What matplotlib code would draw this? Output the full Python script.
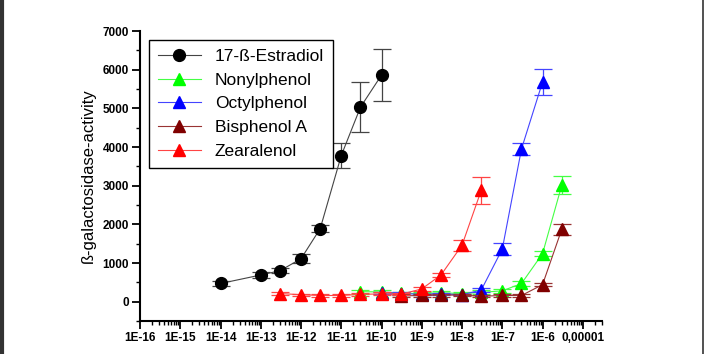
import numpy as np
import matplotlib.pyplot as plt
from matplotlib.ticker import FixedLocator, LogLocator, MultipleLocator, NullFormatter
from matplotlib.lines import Line2D

plt.rcParams['font.family'] = ['Liberation Sans', 'DejaVu Sans']

# data
est_x = [1e-14, 1e-13, 3e-13, 1e-12, 3e-12, 1e-11, 3e-11, 1e-10]
est_y = [470, 690, 800, 1110, 1890, 3780, 5030, 5860]
est_err = [60, 70, 60, 115, 100, 320, 650, 670]

non_x = [3e-11, 1e-10, 3e-10, 1e-9, 3e-9, 1e-8, 3e-8, 1e-7, 3e-7, 1e-6, 3e-6]
non_y = [260, 250, 220, 210, 230, 210, 240, 280, 470, 1240, 3010]
non_err = [50, 40, 40, 40, 40, 40, 50, 50, 60, 60, 230]

oct_x = [1e-10, 3e-10, 1e-9, 3e-9, 1e-8, 3e-8, 1e-7, 3e-7, 1e-6]
oct_y = [230, 210, 190, 200, 180, 300, 1360, 3950, 5680]
oct_err = [30, 30, 20, 30, 20, 60, 160, 150, 330]

bis_x = [3e-10, 1e-9, 3e-9, 1e-8, 3e-8, 1e-7, 3e-7, 1e-6, 3e-6]
bis_y = [150, 160, 170, 170, 140, 160, 160, 440, 1870]
bis_err = [40, 40, 40, 30, 30, 30, 30, 40, 150]

zea_x = [3e-13, 1e-12, 3e-12, 1e-11, 3e-11, 1e-10, 3e-10, 1e-9, 3e-9, 1e-8, 3e-8]
zea_y = [210, 180, 160, 160, 190, 200, 190, 330, 690, 1460, 2880]
zea_err = [40, 30, 40, 30, 40, 40, 30, 60, 60, 140, 350]

xticks = [1e-16, 1e-15, 1e-14, 1e-13, 1e-12, 1e-11, 1e-10, 1e-9, 1e-8, 1e-7, 1e-6, 1e-5]
xlabels = ["1E-16", "1E-15", "1E-14", "1E-13", "1E-12", "1E-11", "1E-10",
           "1E-9", "1E-8", "1E-7", "1E-6", "0,00001"]

series = [
    ("17-ß-Estradiol", est_x, est_y, est_err, "black", "#444444", "o"),
    ("Nonylphenol", non_x, non_y, non_err, "#00ff00", "#44ff44", "^"),
    ("Octylphenol", oct_x, oct_y, oct_err, "#0000ff", "#4444ff", "^"),
    ("Bisphenol A", bis_x, bis_y, bis_err, "#800000", "#993333", "^"),
    ("Zearalenol", zea_x, zea_y, zea_err, "#ff0000", "#ff4444", "^"),
]

fig = plt.figure(figsize=(7.07, 3.54), dpi=100)
ax = fig.add_axes([140/707, 1-321/354, 462/707, 290/354])

for name, x, y, e, c, ec, m in series:
    ax.errorbar(x, y, yerr=e, fmt='none', ecolor=ec, elinewidth=0.9,
                capsize=6.5, capthick=0.9)
    ax.plot(x, y, color=ec, lw=0.8, marker=m, ms=8.5 if m == "o" else 9,
            mfc=c, mec=c, label=name)

ax.set_xscale('log')
ax.set_xlim(1e-16, 3e-5)
ax.set_ylim(-500, 7000)

ax.xaxis.set_major_locator(FixedLocator(xticks))
ax.set_xticklabels(xlabels)
ax.xaxis.set_minor_locator(LogLocator(base=10, subs=np.arange(2, 10), numticks=30))
ax.xaxis.set_minor_formatter(NullFormatter())
ax.yaxis.set_major_locator(FixedLocator([0, 1000, 2000, 3000, 4000, 5000, 6000, 7000]))
ax.yaxis.set_minor_locator(MultipleLocator(500))

for s in ['top', 'right']:
    ax.spines[s].set_visible(False)
for s in ['left', 'bottom']:
    ax.spines[s].set_linewidth(1.5)

ax.tick_params(which='major', direction='out', length=6, width=1.3, pad=2)
ax.tick_params(which='minor', direction='out', length=3, width=1)
for lab in ax.get_xticklabels() + ax.get_yticklabels():
    lab.set_fontweight('bold')
    lab.set_fontsize(8.5)

ax.set_ylabel("ß-galactosidase-activity", fontsize=12, labelpad=5)

leg = ax.legend(loc='upper left', bbox_to_anchor=(0.0195, 0.969), borderaxespad=0,
                fontsize=12.5, handlelength=2.5, fancybox=False, framealpha=1,
                edgecolor='black', labelspacing=0.5, borderpad=0.5)
leg.get_frame().set_linewidth(1)

# frame lines at the image edges
fig.add_artist(Line2D([0.003, 0.003], [0, 1], color='#333333', lw=3, transform=fig.transFigure))
fig.add_artist(Line2D([0.995, 0.995], [0, 1], color='#333333', lw=1.2, transform=fig.transFigure))

fig.savefig("out.png", dpi=100)
